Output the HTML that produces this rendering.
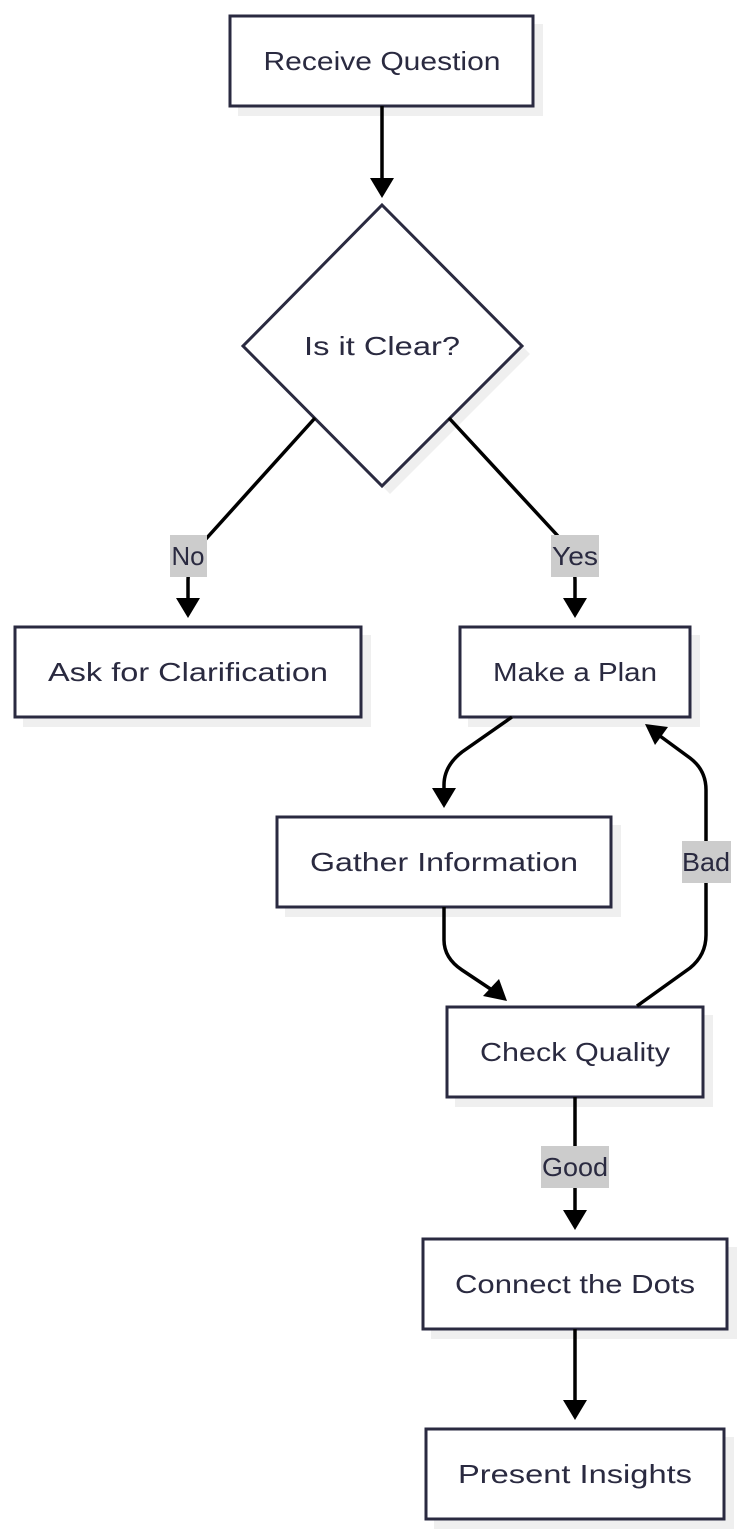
<!DOCTYPE html>
<html><head><meta charset="utf-8"><style>
html,body{margin:0;padding:0;background:#fff;}
svg{display:block;}
text{font-family:"Liberation Sans","DejaVu Sans",sans-serif;font-size:26px;fill:#2a2a40;}
</style></head><body>
<svg width="747" height="1535" viewBox="0 0 747 1535" xmlns="http://www.w3.org/2000/svg">
<g fill="#efefef">
<rect x="238" y="24" width="305" height="92"/>
<polygon points="390,213 530,354 390,494 251,354"/>
<rect x="23" y="635" width="348" height="92"/>
<rect x="468" y="635" width="232" height="92"/>
<rect x="285" y="825" width="336" height="92"/>
<rect x="455" y="1015" width="258" height="92"/>
<rect x="431" y="1247" width="306" height="92"/>
<rect x="434" y="1437" width="300" height="92"/>
</g>
<g fill="#fff" stroke="#2a2a40" stroke-width="3">
<rect x="230" y="16" width="303" height="90"/>
<polygon points="382,205 522,346 382,486 243,346"/>
<rect x="15" y="627" width="346" height="90"/>
<rect x="460" y="627" width="230" height="90"/>
<rect x="277" y="817" width="334" height="90"/>
<rect x="447" y="1007" width="256" height="90"/>
<rect x="423" y="1239" width="304" height="90"/>
<rect x="426" y="1429" width="298" height="90"/>
</g>
<g fill="none" stroke="#000" stroke-width="3.5">
<path d="M382,106 V182"/>
<path d="M315,418 L205,540 Q188,560 188,580 V600"/>
<path d="M449,418 L557,535 Q575,555 575,580 V600"/>
<path d="M512,717 L462,752 Q444,766 444,785 V790"/>
<path d="M444,907 V940 Q444,958 462,970 L492,990"/>
<path d="M637,1006 L690,968 Q706,955 706,935 V790 Q706,770 690,758 L660,736"/>
<path d="M575,1097 V1212"/>
<path d="M575,1329 V1402"/>
</g>
<g fill="#000">
<polygon points="370,178 394,178 382,198"/>
<polygon points="176,598 200,598 188,618"/>
<polygon points="563,598 587,598 575,618"/>
<polygon points="432,788 456,788 444,808"/>
<polygon points="483,996 499,979 507,1001"/>
<polygon points="645,724 668,727 655,745"/>
<polygon points="563,1210 587,1210 575,1230"/>
<polygon points="563,1400 587,1400 575,1420"/>
</g>
<g fill="#cccccc">
<rect x="170" y="535" width="37" height="42"/>
<rect x="551" y="535" width="48" height="42"/>
<rect x="682" y="841" width="49" height="42"/>
<rect x="541" y="1146" width="68" height="42"/>
</g>
<g text-anchor="middle" dominant-baseline="central">
<text x="382" y="61" textLength="237" lengthAdjust="spacingAndGlyphs">Receive Question</text>
<text x="382" y="346" textLength="156" lengthAdjust="spacingAndGlyphs">Is it Clear?</text>
<text x="188" y="672" textLength="280" lengthAdjust="spacingAndGlyphs">Ask for Clarification</text>
<text x="575" y="672" textLength="164" lengthAdjust="spacingAndGlyphs">Make a Plan</text>
<text x="444" y="862" textLength="268" lengthAdjust="spacingAndGlyphs">Gather Information</text>
<text x="575" y="1052" textLength="190" lengthAdjust="spacingAndGlyphs">Check Quality</text>
<text x="575" y="1284" textLength="240" lengthAdjust="spacingAndGlyphs">Connect the Dots</text>
<text x="575" y="1474" textLength="234" lengthAdjust="spacingAndGlyphs">Present Insights</text>
<text x="188" y="556" textLength="33" lengthAdjust="spacingAndGlyphs">No</text>
<text x="575" y="556" textLength="46" lengthAdjust="spacingAndGlyphs">Yes</text>
<text x="706" y="862" textLength="48" lengthAdjust="spacingAndGlyphs">Bad</text>
<text x="575" y="1167" textLength="66" lengthAdjust="spacingAndGlyphs">Good</text>
</g>
</svg>
</body></html>
